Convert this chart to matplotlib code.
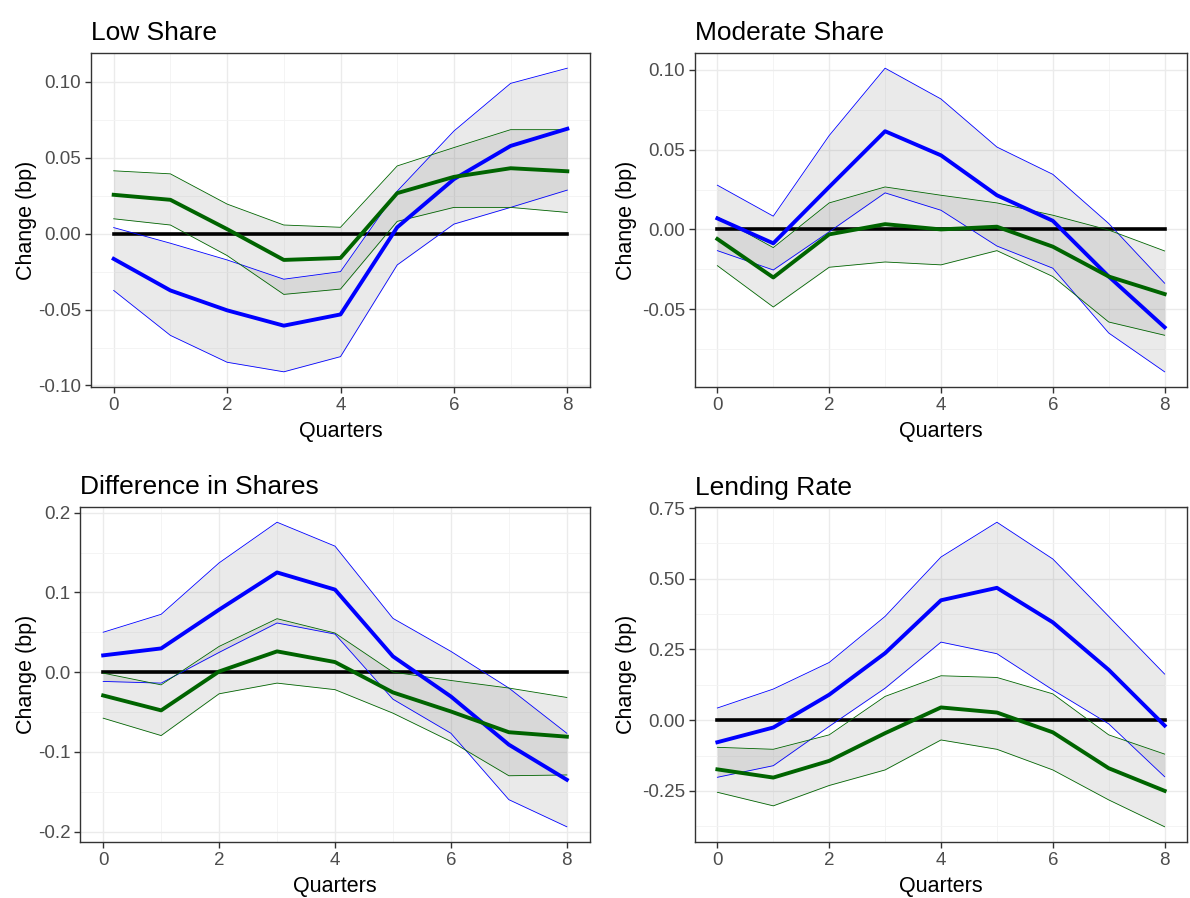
import matplotlib
matplotlib.use("Agg")
import matplotlib.pyplot as plt
import numpy as np
from matplotlib.ticker import FormatStrFormatter, MultipleLocator

plt.rcParams['font.family'] = ['Liberation Sans', 'DejaVu Sans']
plt.rcParams['axes.unicode_minus'] = False

quarters = np.arange(9)

# Low Share
low_blue = [-0.0166, -0.0374, -0.0505, -0.0606, -0.0532, 0.0042, 0.0359, 0.0578, 0.0691]
low_blue_hi = [0.0040, -0.0063, -0.0173, -0.0300, -0.0250, 0.0280, 0.0676, 0.0990, 0.1090]
low_blue_lo = [-0.0374, -0.0670, -0.0847, -0.0910, -0.0810, -0.0206, 0.0063, 0.0173, 0.0287]
low_green = [0.0256, 0.0223, 0.0030, -0.0173, -0.0160, 0.0267, 0.0374, 0.0431, 0.0411]
low_green_hi = [0.0414, 0.0394, 0.0195, 0.0057, 0.0042, 0.0446, 0.0567, 0.0685, 0.0685]
low_green_lo = [0.0098, 0.0057, -0.0144, -0.0400, -0.0365, 0.0081, 0.0173, 0.0173, 0.0140]

# Moderate Share
mod_blue = [0.0069, -0.0087, 0.0266, 0.0615, 0.0464, 0.0214, 0.0054, -0.0295, -0.0613]
mod_blue_hi = [0.0277, 0.0083, 0.0588, 0.1010, 0.0817, 0.0516, 0.0345, 0.0037, -0.0337]
mod_blue_lo = [-0.0133, -0.0254, -0.0015, 0.0229, 0.0120, -0.0104, -0.0243, -0.0649, -0.0892]
mod_green = [-0.0060, -0.0301, -0.0031, 0.0033, 0.0000, 0.0017, -0.0108, -0.0295, -0.0405]
mod_green_hi = [0.0079, -0.0114, 0.0166, 0.0266, 0.0214, 0.0166, 0.0089, -0.0004, -0.0135]
mod_green_lo = [-0.0227, -0.0486, -0.0237, -0.0204, -0.0222, -0.0133, -0.0295, -0.0580, -0.0663]

# Difference in Shares
diff_blue = [0.0210, 0.0297, 0.0783, 0.1250, 0.1035, 0.0197, -0.0306, -0.0910, -0.1350]
diff_blue_hi = [0.0500, 0.0725, 0.1370, 0.1880, 0.1580, 0.0674, 0.0260, -0.0200, -0.0767]
diff_blue_lo = [-0.0117, -0.0138, 0.0247, 0.0616, 0.0477, -0.0340, -0.0767, -0.1600, -0.1940]
diff_green = [-0.0293, -0.0480, 0.0008, 0.0260, 0.0126, -0.0255, -0.0494, -0.0754, -0.0810]
diff_green_hi = [-0.0013, -0.0160, 0.0322, 0.0670, 0.0490, 0.0000, -0.0105, -0.0200, -0.0318]
diff_green_lo = [-0.0578, -0.0796, -0.0272, -0.0138, -0.0220, -0.0515, -0.0870, -0.1300, -0.1290]

# Lending Rate
lend_blue = [-0.078, -0.026, 0.090, 0.237, 0.424, 0.468, 0.346, 0.178, -0.019]
lend_blue_hi = [0.043, 0.110, 0.204, 0.367, 0.577, 0.700, 0.570, 0.367, 0.163]
lend_blue_lo = [-0.202, -0.161, -0.022, 0.113, 0.276, 0.235, 0.107, -0.013, -0.200]
lend_green = [-0.174, -0.203, -0.144, -0.046, 0.045, 0.027, -0.043, -0.170, -0.250]
lend_green_hi = [-0.096, -0.103, -0.052, 0.084, 0.157, 0.151, 0.093, -0.052, -0.120]
lend_green_lo = [-0.255, -0.303, -0.231, -0.176, -0.070, -0.103, -0.176, -0.282, -0.377]

W, H = 1190, 898
fig = plt.figure(figsize=(W / 100, H / 100), dpi=100)

panels = [
    ("Low Share", (91, 590, 53, 387), 37, low_blue, low_blue_hi, low_blue_lo,
     low_green, low_green_hi, low_green_lo, 0.05, '%.2f'),
    ("Moderate Share", (695, 1187, 53, 387), 637, mod_blue, mod_blue_hi, mod_blue_lo,
     mod_green, mod_green_hi, mod_green_lo, 0.05, '%.2f'),
    ("Difference in Shares", (80, 590, 507, 842), 37, diff_blue, diff_blue_hi, diff_blue_lo,
     diff_green, diff_green_hi, diff_green_lo, 0.1, '%.1f'),
    ("Lending Rate", (695, 1187, 507, 842), 637, lend_blue, lend_blue_hi, lend_blue_lo,
     lend_green, lend_green_hi, lend_green_lo, 0.25, '%.2f'),
]

for (title, (l, r, t, b), ylab_x, bc, bh, bl, gc, gh, gl, step, fmt) in panels:
    ax = fig.add_axes([l / W, 1 - b / H, (r - l) / W, (b - t) / H])
    ax.set_axisbelow(True)

    ax.fill_between(quarters, bl, bh, color='grey', alpha=0.16, lw=0)
    ax.fill_between(quarters, gl, gh, color='grey', alpha=0.16, lw=0)
    ax.plot(quarters, np.zeros(len(quarters)), color='black', lw=2.6)
    ax.plot(quarters, bh, color='blue', lw=0.6)
    ax.plot(quarters, bl, color='blue', lw=0.6)
    ax.plot(quarters, gh, color='darkgreen', lw=0.6)
    ax.plot(quarters, gl, color='darkgreen', lw=0.6)
    ax.plot(quarters, bc, color='blue', lw=2.8)
    ax.plot(quarters, gc, color='darkgreen', lw=2.8)

    lo = min(min(bl), min(gl), 0)
    hi = max(max(bh), max(gh), 0)
    pad = (hi - lo) * 0.05
    ax.set_ylim(lo - pad, hi + pad)
    ax.set_xlim(-0.4, 8.4)

    ax.xaxis.set_major_locator(MultipleLocator(2))
    ax.xaxis.set_minor_locator(MultipleLocator(1))
    ax.yaxis.set_major_locator(MultipleLocator(step))
    ax.yaxis.set_minor_locator(MultipleLocator(step / 2))
    ax.yaxis.set_major_formatter(FormatStrFormatter(fmt))

    ax.grid(which='major', color='#EBEBEB', lw=1.0)
    ax.grid(which='minor', color='#F3F3F3', lw=0.6)
    ax.tick_params(which='major', length=4, width=1, color='#333333',
                   labelcolor='#4D4D4D', labelsize=13.5, pad=3)
    ax.tick_params(which='minor', length=0)
    for s in ax.spines.values():
        s.set_color('#333333')
        s.set_linewidth(1.0)

    ax.set_title(title, loc='left', fontsize=19, pad=9)
    ax.set_xlabel("Quarters", fontsize=15.5, labelpad=5)
    ax.set_ylabel("Change (bp)", fontsize=15.5)
    ax.yaxis.set_label_coords(ylab_x / W, 1 - (t + b) / 2 / H, transform=fig.transFigure)

fig.savefig("out.png", dpi=100)
